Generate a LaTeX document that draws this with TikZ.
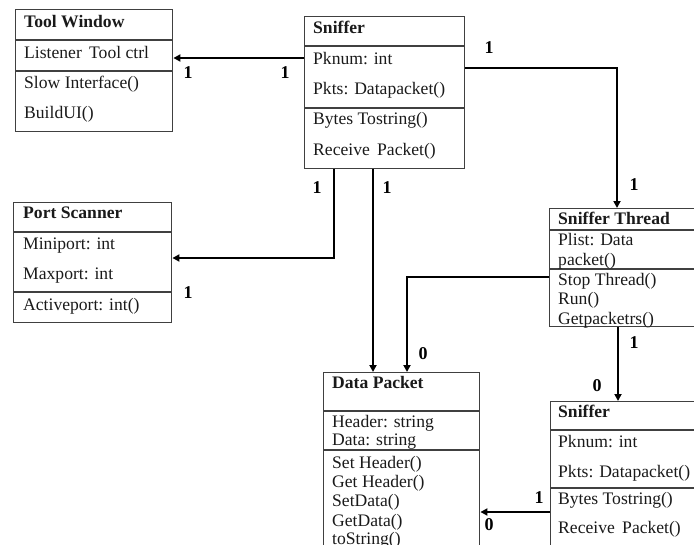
\documentclass[tikz,border=0pt]{standalone}
\usepackage{fontspec}
\setmainfont{Liberation Serif}
\usetikzlibrary{arrows.meta}
\definecolor{boxline}{HTML}{404040}
\definecolor{txt}{HTML}{1A1A1A}
\tikzset{
  umlbox/.style={draw=boxline, line width=1.4pt, rectangle, inner sep=0pt, anchor=north west},
  sepline/.style={draw=boxline, line width=1.4pt},
  conn/.style={draw=black, line width=1.9pt, -{Triangle[length=7pt,width=7pt]}},
  item/.style={anchor=base west, inner sep=0pt, text=txt, font=\fontsize{17.6}{20}\selectfont},
  head/.style={item, font=\fontsize{17.6}{20}\selectfont\bfseries},
  mult/.style={anchor=center, inner sep=0pt, text=black, font=\fontsize{18}{20}\selectfont\bfseries}
}
\begin{document}
\begin{tikzpicture}[x=1pt,y=-1pt]
\useasboundingbox (0,0) rectangle (694,544);
\clip (0,0) rectangle (694,544);

% Tool Window
\node[umlbox, minimum width=157pt, minimum height=122pt] (tw) at (15,9) {};
\draw[sepline] ([yshift=-31pt]tw.north west) -- ([yshift=-31pt]tw.north east);
\draw[sepline] ([yshift=-62pt]tw.north west) -- ([yshift=-62pt]tw.north east);
\node[head] (twh) at (24,27) {Tool Window};
\node[item] (tw1) at (24,58) {Listener\, Tool ctrl};
\node[item] (tw2) at (24,88) {Slow Interface()};
\node[item] (tw3) at (24,118) {BuildUI()};

% Sniffer (top)
\node[umlbox, minimum width=160pt, minimum height=152pt] (sn) at (304,16) {};
\draw[sepline] ([yshift=-30pt]sn.north west) -- ([yshift=-30pt]sn.north east);
\draw[sepline] ([yshift=-92pt]sn.north west) -- ([yshift=-92pt]sn.north east);
\node[head] (snh) at (313,33) {Sniffer};
\node[item] (sn1) at (313,64) {Pknum: int};
\node[item] (sn2t) at (313,94) {Pkts: Datapacket()};
\node[item] (sn3) at (313,124) {Bytes Tostring()};
\node[item] (sn4) at (313,155) {Receive\, Packet()};

% Port Scanner
\node[umlbox, minimum width=158pt, minimum height=120pt] (ps) at (13,202) {};
\draw[sepline] ([yshift=-30pt]ps.north west) -- ([yshift=-30pt]ps.north east);
\draw[sepline] ([yshift=-90pt]ps.north west) -- ([yshift=-90pt]ps.north east);
\node[head] (psh) at (23,218) {Port Scanner};
\node[item] (ps1) at (23,249) {Miniport: int};
\node[item] (ps2) at (23,279) {Maxport: int};
\node[item] (ps3) at (23,310) {Activeport: int()};

% Sniffer Thread
\node[umlbox, minimum width=152pt, minimum height=118pt] (st) at (549,208) {};
\draw[sepline] ([yshift=-22pt]st.north west) -- ([yshift=-22pt]st.north east);
\draw[sepline] ([yshift=-61pt]st.north west) -- ([yshift=-61pt]st.north east);
\node[head] (sth) at (558,224) {Sniffer Thread};
\node[item] (st1) at (558,245) {Plist: Data};
\node[item] (st2) at (558,265) {packet()};
\node[item] (st3) at (558,285) {Stop Thread()};
\node[item] (st4) at (558,304) {Run()};
\node[item] (st5) at (558,324) {Getpacketrs()};

% Data Packet
\node[umlbox, minimum width=156pt, minimum height=190pt] (dp) at (323,372) {};
\draw[sepline] ([yshift=-39pt]dp.north west) -- ([yshift=-39pt]dp.north east);
\draw[sepline] ([yshift=-78pt]dp.north west) -- ([yshift=-78pt]dp.north east);
\node[head] (dph) at (332,388) {Data Packet};
\node[item] (dp1) at (332,427) {Header: string};
\node[item] (dp2) at (332,445) {Data: string};
\node[item] (dp3) at (332,468) {Set Header()};
\node[item] (dp4) at (332,487) {Get Header()};
\node[item] (dp5) at (332,506) {SetData()};
\node[item] (dp6) at (332,526) {GetData()};
\node[item] (dp7) at (332,544) {toString()};

% Sniffer (bottom)
\node[umlbox, minimum width=152pt, minimum height=160pt] (sb) at (550,401) {};
\draw[sepline] ([yshift=-29pt]sb.north west) -- ([yshift=-29pt]sb.north east);
\draw[sepline] ([yshift=-87pt]sb.north west) -- ([yshift=-87pt]sb.north east);
\node[head] (sbh) at (558,417) {Sniffer};
\node[item] (sb1) at (558,447) {Pknum: int};
\node[item] (sb2) at (558,477) {Pkts: Datapacket()};
\node[item] (sb3) at (558,504) {Bytes Tostring()};
\node[item] (sb4) at (558,533) {Receive\, Packet()};

% Connectors
\draw[conn] ([yshift=-42pt]sn.north west) -- ([yshift=-49pt]tw.north east);
\draw[conn] ([yshift=-52pt]sn.north east) -| ([xshift=68pt]st.north west);
\draw[conn] ([xshift=30pt]sn.south west) |- ([yshift=-56pt]ps.north east);
\draw[conn] ([xshift=69pt]sn.south west) -- ([xshift=50pt]dp.north west);
\draw[conn] ([yshift=-69pt]st.north west) -| ([xshift=84pt]dp.north west);
\draw[conn] ([xshift=69pt]st.south west) -- ([xshift=68pt]sb.north west);
\draw[conn] ([yshift=-111pt]sb.north west) -- ([yshift=-140pt]dp.north east);

% Multiplicities
\node[mult] (m1) at (188,73) {1};
\node[mult] (m2) at (285,73) {1};
\node[mult] (m3) at (489,48) {1};
\node[mult] (m4) at (634,185) {1};
\node[mult] (m5) at (317,188) {1};
\node[mult] (m6) at (387,188) {1};
\node[mult] (m7) at (188,293) {1};
\node[mult] (m8) at (423,354) {0};
\node[mult] (m9) at (634,343) {1};
\node[mult] (m10) at (597,386) {0};
\node[mult] (m11) at (539,498) {1};
\node[mult] (m12) at (489,525) {0};
\end{tikzpicture}
\end{document}
